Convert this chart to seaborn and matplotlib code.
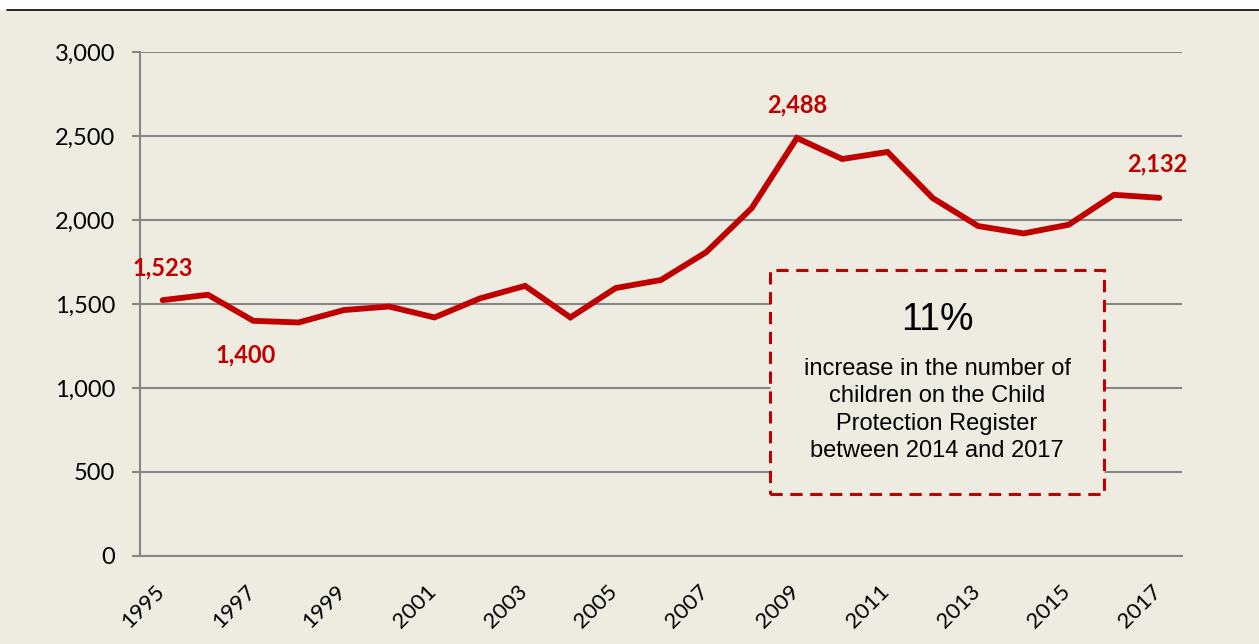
import numpy as np
import pandas as pd
import matplotlib
matplotlib.use("Agg")
import matplotlib.pyplot as plt
from matplotlib.patches import Rectangle
from matplotlib.lines import Line2D
import seaborn as sns

years = list(range(1995, 2018))
children = [1523, 1555, 1400, 1390, 1464, 1485, 1420, 1533, 1608, 1420,
            1595, 1643, 1809, 2070, 2488, 2363, 2405, 2130, 1964, 1920,
            1972, 2150, 2132]
labelled_years = [1995, 1997, 2009, 2017]
label_offsets = [(0, 32), (-8, -34), (0, 33), (-2, 34)]  # pixels
yticks = [0, 500, 1000, 1500, 2000, 2500, 3000]
box_title = "11%"
box_text = ("increase in the number of\nchildren on the Child\n"
            "Protection Register\nbetween 2014 and 2017")

RED = "#C00000"
BG = "#EEECE1"
GREY = "#868686"

sns.set_theme(style="white")
plt.rcParams["font.family"] = ["Lato", "DejaVu Sans"]

df = pd.DataFrame({"pos": np.arange(len(years)), "year": years, "n": children})

fig = plt.figure(figsize=(12.59, 6.44), dpi=100, facecolor="white")
fig.patches.append(Rectangle((0, 0), 1, (644 - 10) / 644, transform=fig.transFigure,
                             facecolor=BG, edgecolor="none", zorder=-10))
fig.lines.append(Line2D([7 / 1259, 1], [(644 - 10) / 644] * 2, transform=fig.transFigure,
                        color="black", lw=1.2))

ax = fig.add_axes([140 / 1259, 88 / 644, 1042 / 1259, 504 / 644])
ax.set_facecolor(BG)

sns.lineplot(data=df, x="pos", y="n", ax=ax, color=RED, lw=4.2,
             solid_joinstyle="miter", zorder=3)

ax.set_xlim(-0.5, len(years) - 0.5)
ax.set_ylim(0, 3000)
ax.set_yticks(yticks)
ax.set_yticklabels([f"{v:,}" for v in yticks], fontsize=17, color="black")
ax.yaxis.grid(True, color=GREY, lw=1.5)
ax.set_axisbelow(True)

# tick marks at category boundaries, labels on every other year
# (label anchors nudged left so the rotated text ends over its category)
ax.set_xticks(np.arange(-0.5, len(years)), minor=True)
ax.set_xticks(df["pos"][::2] - 0.18)
ax.set_xticklabels([str(y) for y in years[::2]], rotation=45, ha="right",
                   va="top", rotation_mode="anchor", fontsize=16, color="black")
ax.tick_params(axis="x", which="major", length=0, pad=18)
ax.tick_params(axis="x", which="minor", length=6, width=1.5, color=GREY, direction="out")
ax.tick_params(axis="y", length=6, width=1.5, color=GREY, direction="out", pad=12, left=True)
for side in ["top", "right"]:
    ax.spines[side].set_visible(False)
for side in ["left", "bottom"]:
    ax.spines[side].set_color(GREY)
    ax.spines[side].set_linewidth(1.5)
ax.set_xlabel("")
ax.set_ylabel("")

for yr, (dx, dy) in zip(labelled_years, label_offsets):
    i = years.index(yr)
    ax.annotate(f"{children[i]:,}", (i, children[i]), xytext=(dx, dy),
                textcoords="offset pixels", ha="center", va="center",
                color=RED, fontsize=17, fontweight="bold")

# callout box
bx0, bx1 = (770 - 140) / 1042, (1104 - 140) / 1042
by0, by1 = (556 - 494) / 504, (556 - 270) / 504
ax.add_patch(Rectangle((bx0, by0), bx1 - bx0, by1 - by0, transform=ax.transAxes,
                       facecolor=BG, edgecolor=RED, lw=2.2, ls=(0, (4, 2.5)), zorder=4))
cx = (bx0 + bx1) / 2
ax.text(cx, (556 - 320) / 504, box_title, transform=ax.transAxes, ha="center",
        va="center", fontsize=27, color="black", family=["Liberation Sans"], zorder=5)
ax.text(cx, (556 - 410) / 504, box_text, transform=ax.transAxes, ha="center",
        va="center", fontsize=17, color="black", family=["Liberation Sans"],
        linespacing=1.3, zorder=5)

fig.savefig("out.png", dpi=100, facecolor=fig.get_facecolor())
